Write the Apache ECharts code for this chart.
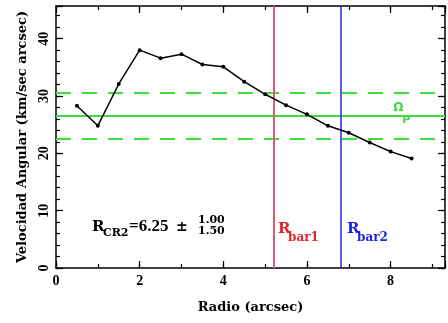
<!DOCTYPE html>
<html>
<head>
<meta charset="utf-8">
<script src="https://cdn.jsdelivr.net/npm/echarts@6/dist/echarts.min.js"></script>
<style>
  html, body { margin: 0; padding: 0; background: #ffffff; }
  #chart { width: 448px; height: 323px; }
</style>
</head>
<body>
<div id="chart"></div>
<script>
// Angular velocity curve, Omega(R) = V(R)/R
const radius = [0.5, 1.0, 1.5, 2.0, 2.5, 3.0, 3.5, 4.0, 4.5, 5.0, 5.5, 6.0, 6.5, 7.0, 7.5, 8.0, 8.5];
const omega  = [28.3, 24.8, 32.1, 38.0, 36.6, 37.3, 35.5, 35.1, 32.5, 30.3, 28.4, 26.8, 24.8, 23.6, 21.9, 20.3, 19.1];

// Pattern speed and its uncertainty band
const patternSpeed = [26.6];
const patternSpeedBand = [22.6, 30.6];

// Bar radii
const barRadii = [5.2, 6.8];

// Corotation estimate shown in the annotation
const corotation = ['6.25', '1.00', '1.50'];

// Tick labels
const xTickLabels = ['0', '2', '4', '6', '8'];
const yTickLabels = ['0', '10', '20', '30', '40'];

const X_MAX = 9.3;
const Y_MAX = 45.7;

const SERIF = 'DejaVu Serif';
const NUM = 'Liberation Serif';
const GREEN = '#3fdc3f';
const RED_LINE = '#dc5c78';
const RED_TEXT = '#e8202c';
const BLUE = '#2222e6';

const chart = echarts.init(document.getElementById('chart'), null, { renderer: 'canvas' });

function xAxisDef(position, interval, len, labels, line) {
  return {
    type: 'value', position: position, min: 0, max: X_MAX, interval: interval,
    axisLine: { show: line, onZero: false, lineStyle: { color: '#000', width: 1.5 } },
    axisTick: { show: true, inside: true, length: len, lineStyle: { color: '#000', width: 1.2 } },
    axisLabel: labels ? {
      show: true, margin: 6, color: '#000', fontFamily: NUM, fontWeight: 'bold', fontSize: 14,
      formatter: function (v) { const s = String(v); return xTickLabels.indexOf(s) >= 0 ? s : ''; }
    } : { show: false },
    splitLine: { show: false },
    name: labels ? 'Radio (arcsec)' : '',
    nameLocation: 'middle', nameGap: 33,
    nameTextStyle: { color: '#000', fontFamily: SERIF, fontWeight: 'bold', fontSize: 13 }
  };
}

function yAxisDef(position, interval, len, labels, line) {
  return {
    type: 'value', position: position, min: 0, max: Y_MAX, interval: interval,
    axisLine: { show: line, onZero: false, lineStyle: { color: '#000', width: 1.5 } },
    axisTick: { show: true, inside: true, length: len, lineStyle: { color: '#000', width: 1.2 } },
    axisLabel: labels ? {
      show: true, margin: 5, rotate: 90, color: '#000', fontFamily: NUM, fontWeight: 'bold', fontSize: 14,
      formatter: function (v) { const s = String(v); return yTickLabels.indexOf(s) >= 0 ? s : ''; }
    } : { show: false },
    splitLine: { show: false },
    name: labels ? 'Velocidad Angular (km/sec arcsec)' : '',
    nameLocation: 'middle', nameGap: 27, nameRotate: 90,
    nameTextStyle: { color: '#000', fontFamily: SERIF, fontWeight: 'bold', fontSize: 13 }
  };
}

const option = {
  backgroundColor: '#ffffff',
  animation: false,
  grid: { left: 56, right: 2, top: 6, bottom: 55, containLabel: false },
  xAxis: [
    xAxisDef('bottom', 2, 7, true, true),
    xAxisDef('bottom', 1, 4, false, false),
    xAxisDef('top', 2, 7, false, true),
    xAxisDef('top', 1, 4, false, false)
  ],
  yAxis: [
    yAxisDef('left', 10, 7, true, true),
    yAxisDef('left', 2, 4, false, false),
    yAxisDef('right', 10, 7, false, true),
    yAxisDef('right', 2, 4, false, false)
  ],
  series: [
    {
      // reference lines: pattern speed band and bar radii
      type: 'line', data: [], xAxisIndex: 0, yAxisIndex: 0, silent: true,
      markLine: {
        silent: true, symbol: 'none', label: { show: false },
        data: [
          { yAxis: patternSpeed[0], lineStyle: { color: GREEN, width: 2, type: 'solid' } },
          { yAxis: patternSpeedBand[0], lineStyle: { color: GREEN, width: 2, type: [15, 11] } },
          { yAxis: patternSpeedBand[1], lineStyle: { color: GREEN, width: 2, type: [15, 11] } },
          { xAxis: barRadii[0], lineStyle: { color: RED_LINE, width: 2, type: 'solid' } },
          { xAxis: barRadii[1], lineStyle: { color: BLUE, width: 1.5, type: 'solid' } }
        ]
      }
    },
    {
      type: 'line', xAxisIndex: 0, yAxisIndex: 0,
      data: radius.map(function (r, i) { return [r, omega[i]]; }),
      symbol: 'circle', symbolSize: 4,
      itemStyle: { color: '#000' },
      lineStyle: { color: '#000', width: 1.5 },
      z: 5
    }
  ]
};

chart.setOption(option);

function px(x, y) {
  return chart.convertToPixel({ xAxisIndex: 0, yAxisIndex: 0 }, [x, y]);
}

function txt(p, dx, dy, text, font, size, color) {
  return {
    type: 'text', x: p[0] + dx, y: p[1] + dy, silent: true, z: 10,
    style: {
      text: text, fill: color, fontFamily: font, fontWeight: 'bold', fontSize: size,
      align: 'left', verticalAlign: 'middle'
    }
  };
}

const aCR = px(0.86, 6.1);
const aBar1 = px(5.31, 6.8);
const aBar2 = px(6.96, 6.8);
const aOmega = px(8.06, 27.9);

chart.setOption({
  graphic: [
    txt(aCR, 0, -5.5, 'R', SERIF, 15, '#000'),
    txt(aCR, 11, 0, 'CR2', SERIF, 11, '#000'),
    txt(aCR, 37, -6, '=' + corotation[0], NUM, 17, '#000'),
    txt(aCR, 84, -5.5, '\u00b1', SERIF, 14, '#000'),
    txt(aCR, 106, -12.5, corotation[1], SERIF, 11, '#000'),
    txt(aCR, 106, -1.5, corotation[2], SERIF, 11, '#000'),

    txt(aBar1, 0, 0, 'R', SERIF, 15, RED_TEXT),
    txt(aBar1, 10, 9, 'bar1', SERIF, 12, RED_TEXT),
    txt(aBar2, 0, 0, 'R', SERIF, 15, BLUE),
    txt(aBar2, 10, 9, 'bar2', SERIF, 12, BLUE),

    txt(aOmega, 0, 0, '\u03a9', 'DejaVu Sans', 12, GREEN),
    txt(aOmega, 9, 12.5, 'P', 'DejaVu Sans', 11, GREEN)
  ]
});
</script>
</body>
</html>
